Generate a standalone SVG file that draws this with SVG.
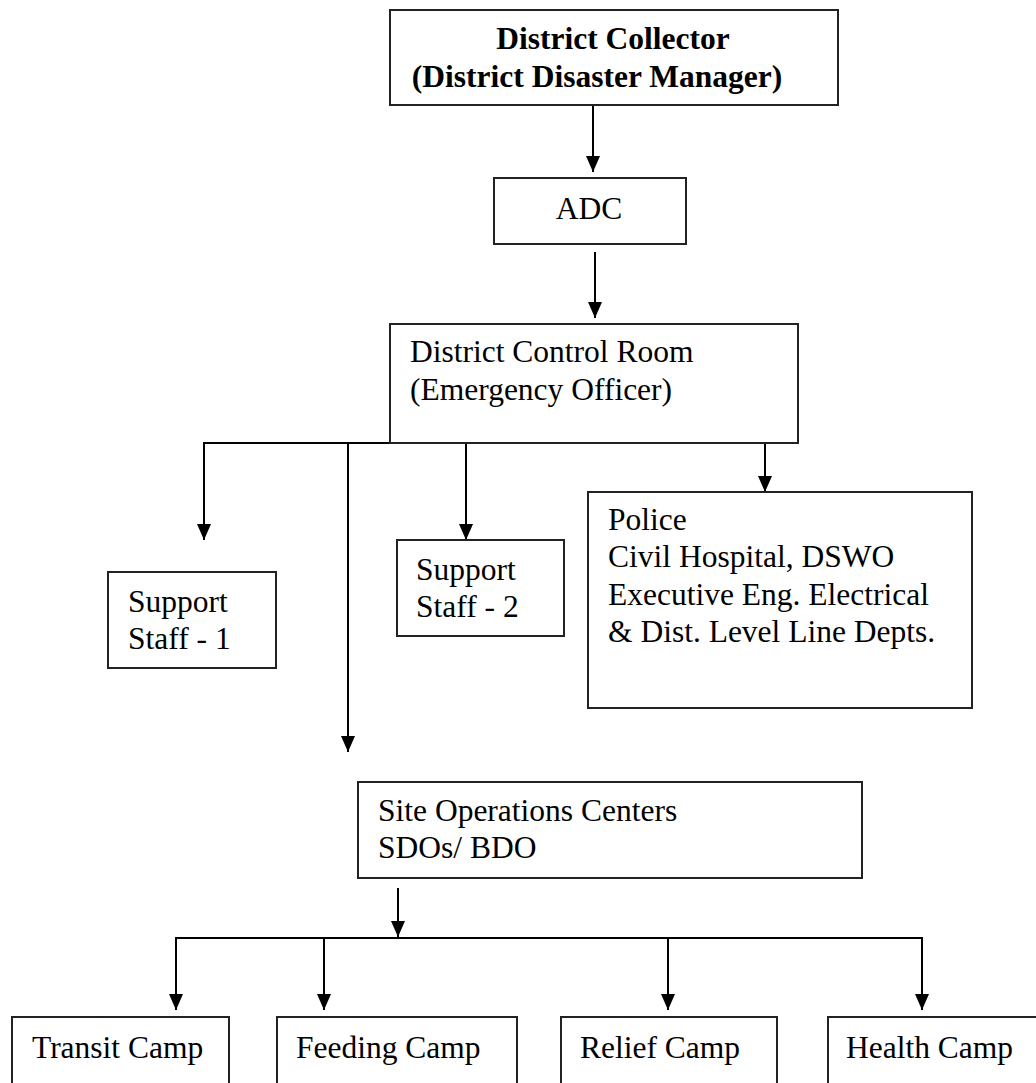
<svg xmlns="http://www.w3.org/2000/svg" width="1036" height="1083" viewBox="0 0 1036 1083">
<style>
.box{fill:#fff;stroke:#222;stroke-width:2}
.t{font-family:"Liberation Serif","Times New Roman",serif;font-size:31.5px;fill:#000}
.b{font-weight:bold}
.c{fill:none;stroke:#000;stroke-width:2}
</style>
<defs>
<marker id="ah" markerUnits="userSpaceOnUse" markerWidth="16" markerHeight="14" refX="16" refY="7" orient="auto">
<path d="M0,0 L16,7 L0,14 z" fill="#000"/>
</marker>
</defs>
<rect width="1036" height="1083" fill="#fff"/>
<g id="connectors">
<path class="c" d="M593,105 V172" marker-end="url(#ah)"/>
<path class="c" d="M595,252 V318" marker-end="url(#ah)"/>
<path class="c" d="M390,443 H204 V540" marker-end="url(#ah)"/>
<path class="c" d="M348,443 V752" marker-end="url(#ah)"/>
<path class="c" d="M466,443 V540" marker-end="url(#ah)"/>
<path class="c" d="M765,443 V492" marker-end="url(#ah)"/>
<path class="c" d="M398,888 V937" marker-end="url(#ah)"/>
<path class="c" d="M176,1010 V938 H922 V1010" marker-end="url(#ah)"/>
<path class="c" d="M176,938 V1010" marker-end="url(#ah)"/>
<path class="c" d="M324,938 V1010" marker-end="url(#ah)"/>
<path class="c" d="M668,938 V1010" marker-end="url(#ah)"/>
</g>
<g id="collector">
<rect class="box" x="390" y="10" width="448" height="95"/>
<text class="t b" x="613" y="49" text-anchor="middle">District Collector</text>
<text class="t b" x="597" y="87" text-anchor="middle">(District Disaster Manager)</text>
</g>
<g id="adc">
<rect class="box" x="494" y="178" width="192" height="66"/>
<text class="t" x="589" y="219" text-anchor="middle">ADC</text>
</g>
<g id="control-room">
<rect class="box" x="390" y="324" width="408" height="119"/>
<text class="t" x="410" y="362">District Control Room</text>
<text class="t" x="410" y="400">(Emergency Officer)</text>
</g>
<g id="support-1">
<rect class="box" x="108" y="572" width="168" height="96"/>
<text class="t" x="128" y="612">Support</text>
<text class="t" x="128" y="649">Staff - 1</text>
</g>
<g id="support-2">
<rect class="box" x="397" y="540" width="167" height="96"/>
<text class="t" x="416" y="580">Support</text>
<text class="t" x="416" y="617">Staff - 2</text>
</g>
<g id="police">
<rect class="box" x="588" y="492" width="384" height="216"/>
<text class="t" x="608" y="530">Police</text>
<text class="t" x="608" y="567">Civil Hospital, DSWO</text>
<text class="t" x="608" y="605">Executive Eng. Electrical</text>
<text class="t" x="608" y="642">&amp; Dist. Level Line Depts.</text>
</g>
<g id="site-ops">
<rect class="box" x="358" y="782" width="504" height="96"/>
<text class="t" x="378" y="821">Site Operations Centers</text>
<text class="t" x="378" y="858">SDOs/ BDO</text>
</g>
<g id="transit">
<rect class="box" x="12" y="1017" width="217" height="80"/>
<text class="t" x="32" y="1058">Transit Camp</text>
</g>
<g id="feeding">
<rect class="box" x="277" y="1017" width="240" height="80"/>
<text class="t" x="296" y="1058">Feeding Camp</text>
</g>
<g id="relief">
<rect class="box" x="561" y="1017" width="216" height="80"/>
<text class="t" x="580" y="1058">Relief Camp</text>
</g>
<g id="health">
<rect class="box" x="828" y="1017" width="220" height="80"/>
<text class="t" x="846" y="1058">Health Camp</text>
</g>
</svg>
